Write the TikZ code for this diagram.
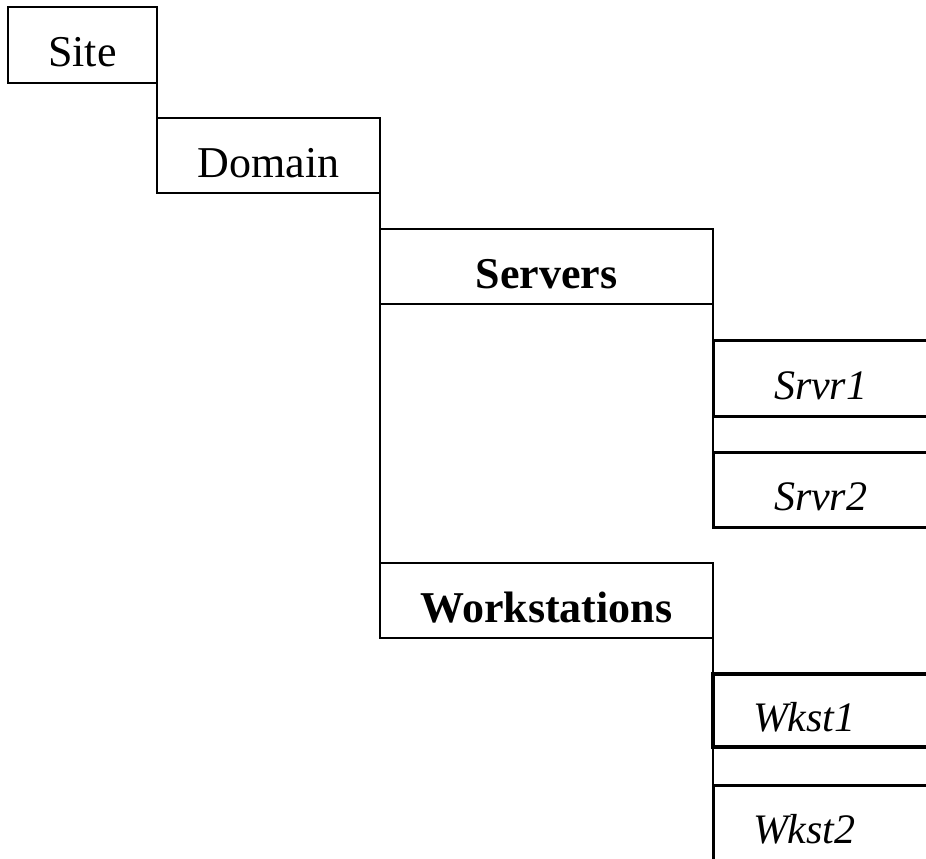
\documentclass[tikz,border=0pt]{standalone}
\usepackage{fontspec}
\setmainfont{Liberation Serif}
\usepackage{tikz}
\usetikzlibrary{positioning}
\usepackage{xcolor}
\tikzset{
    % Box styles - sharp corners, hung off the parent's corner
    group/.style={
        rectangle,
        draw=black,
        line width=2pt,
        outer sep=0pt,
        inner sep=0pt,
        anchor=north west,
        minimum height=75pt,
        text height=43pt,
        text depth=0pt,
        align=center,
        font=\fontsize{44}{48}\selectfont
    },
    member/.style={
        rectangle,
        draw=black,
        line width=3pt,
        outer sep=0pt,
        inner ysep=0pt,
        anchor=north west,
        minimum height=75pt,
        text width=160pt,
        text height=42pt,
        text depth=0pt,
        align=left,
        font=\fontsize{42}{46}\selectfont\itshape
    },
    % Connector style - plain straight lines
    link/.style={
        line width=1.5pt,
        draw=black
    }
}

\begin{document}
\begin{tikzpicture}[x=1pt, y=-1pt]
    \clip (0,0) rectangle (926,859);

    % Top levels
    \node[group, minimum width=149pt, minimum height=76pt] (site) at (8,7) {Site};
    \node[group, minimum width=223pt] (domain) at (157,118) {Domain};

    % Groups
    \node[group, minimum width=333pt, font=\fontsize{44}{48}\selectfont\bfseries] (servers) at (380,229) {Servers};
    \node[group, minimum width=333pt, font=\fontsize{44}{48}\selectfont\bfseries] (workstations) at (380,563) {Workstations};

    % Members
    \node[member, inner xsep=61pt, minimum height=76pt] (srvr1) at (713,340) {Srvr1};
    \node[member, inner xsep=61pt] (srvr2) at (713,452) {Srvr2};
    \node[member, inner xsep=40pt, minimum height=73pt, line width=4pt] (wkst1) at (713,674) {Wkst1};
    \node[member, inner xsep=40pt] (wkst2) at (713,785) {Wkst2};

    % Links
    \draw[link] (site.south east) -- (domain.north west);
    \draw[link] (domain.south east) -- (servers.north west);
    \draw[link] (servers.south west) -- (workstations.north west);
    \draw[link] (servers.south east) -- (srvr1.north west);
    \draw[link] (srvr1.south west) -- (srvr2.north west);
    \draw[link] (workstations.south east) -- (wkst1.north west);
    \draw[link] (wkst1.south west) -- (wkst2.north west);
\end{tikzpicture}
\end{document}
